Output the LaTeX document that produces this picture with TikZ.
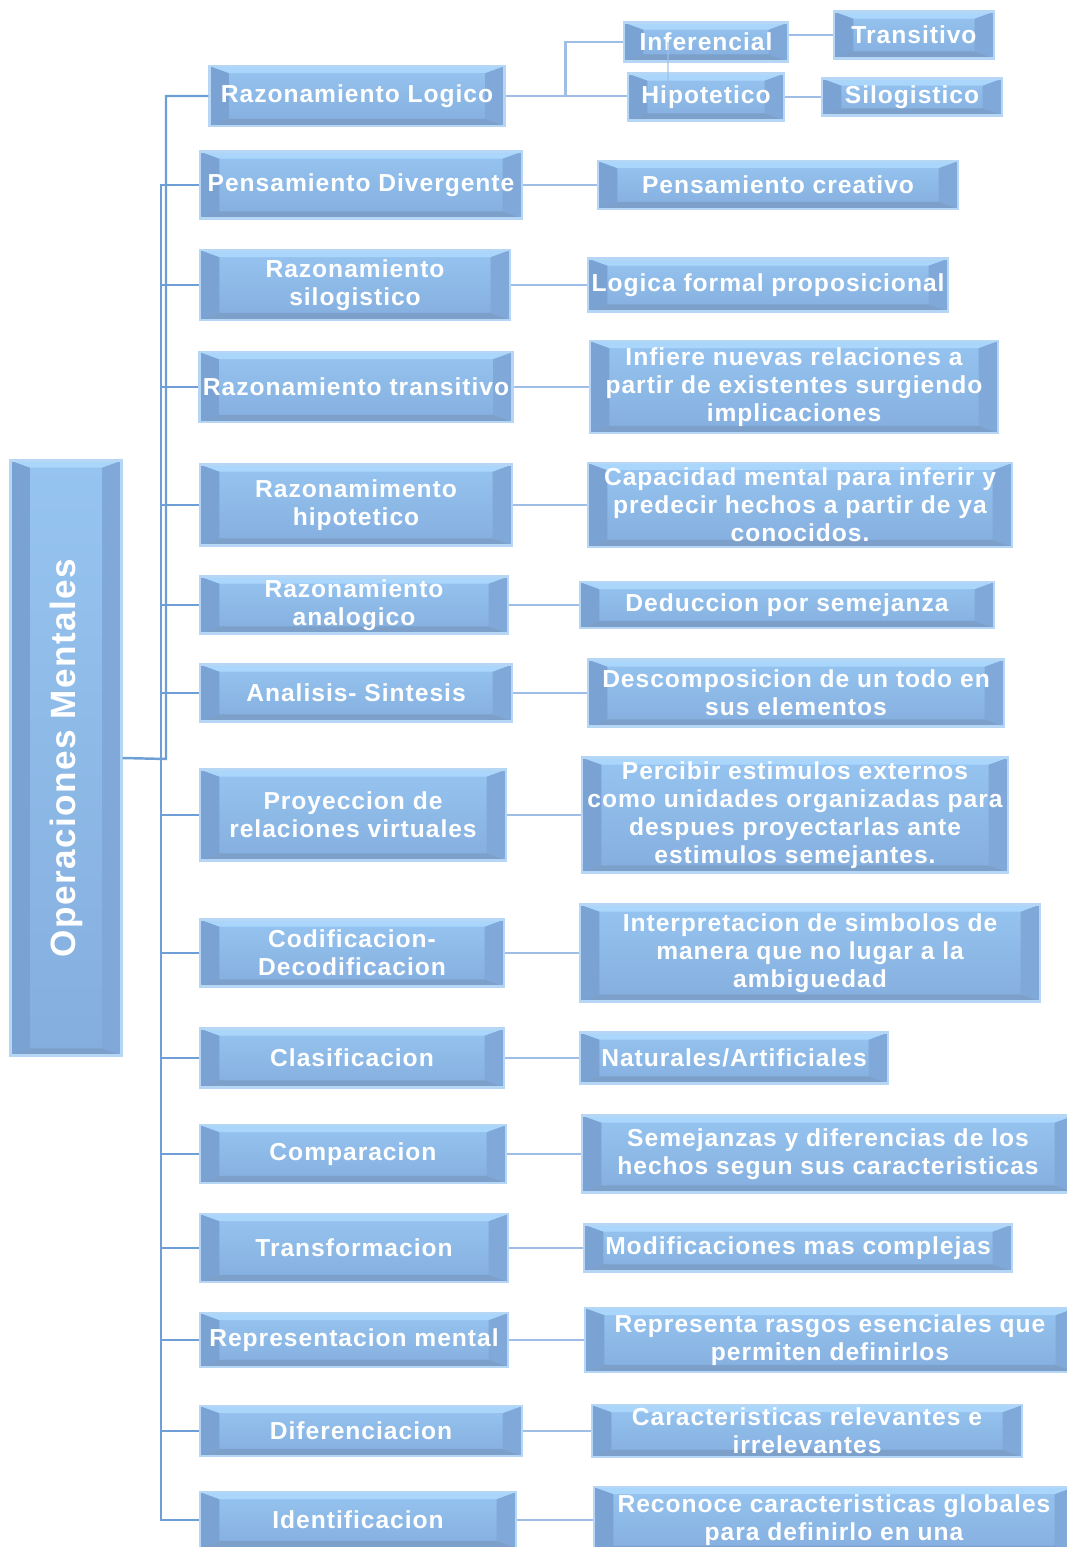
\documentclass[tikz,border=0pt]{standalone}
\usepackage{fontspec}
\setmainfont{Liberation Sans}[LetterSpace=4]
\usepackage{graphicx}
\usetikzlibrary{calc}

\definecolor{boxtop}{RGB}{150,196,240}
\definecolor{boxbot}{RGB}{132,174,222}
\definecolor{bevtop}{RGB}{170,214,252}
\definecolor{bevbot}{RGB}{124,160,202}
\definecolor{bevleft}{RGB}{122,162,210}
\definecolor{bevright}{RGB}{128,168,216}
\definecolor{boxrim}{RGB}{182,214,246}
\definecolor{linkblue}{RGB}{110,158,214}
\definecolor{sublinkblue}{RGB}{158,190,232}

\begin{document}
\begin{tikzpicture}[x=0.02cm, y=-0.02cm,
    % Node styles
    bevel/.style={path picture={
        \fill[bevleft] (path picture bounding box.north west)
            -- ([shift={(11pt,-4pt)}]path picture bounding box.north west)
            -- ([shift={(11pt,4pt)}]path picture bounding box.south west)
            -- (path picture bounding box.south west) -- cycle;
        \fill[bevright] (path picture bounding box.north east)
            -- ([shift={(-11pt,-4pt)}]path picture bounding box.north east)
            -- ([shift={(-11pt,4pt)}]path picture bounding box.south east)
            -- (path picture bounding box.south east) -- cycle;
        \fill[bevtop] (path picture bounding box.north west)
            -- (path picture bounding box.north east)
            -- ([shift={(-11pt,-4pt)}]path picture bounding box.north east)
            -- ([shift={(11pt,-4pt)}]path picture bounding box.north west) -- cycle;
        \fill[bevbot] (path picture bounding box.south west)
            -- (path picture bounding box.south east)
            -- ([shift={(-11pt,4pt)}]path picture bounding box.south east)
            -- ([shift={(11pt,4pt)}]path picture bounding box.south west) -- cycle;
    }},
    box/.style={rectangle, draw=boxrim, line width=1.2pt,
                top color=boxtop, bottom color=boxbot, bevel,
                text=white, align=center, inner sep=1pt,
                font=\fontsize{14}{16}\selectfont\bfseries},
    size/.style 2 args={minimum width=#1*0.02cm, minimum height=#2*0.02cm},
    root/.style={box, font=\fontsize{20}{24}\selectfont\bfseries},
    link/.style={draw=linkblue, line width=1.4pt},
    sublink/.style={draw=sublinkblue, line width=1.4pt}
]
\useasboundingbox (0,0) rectangle (1067,1547);

% 1. Root
\node[root, size={111}{595}] (root) at (66,758) {\rotatebox{90}{Operaciones Mentales}};

% 2. Operations (left column)
\node[box, size={295}{60}] (rlogico) at (357,96) {Razonamiento Logico};
\node[box, size={322}{67}] (pdivergente) at (361,185) {Pensamiento Divergente};
\node[box, size={310}{70}] (rsilogistico) at (355,285) {Razonamiento\\silogistico};
\node[box, size={313}{70}] (rtransitivo) at (356,387) {Razonamiento transitivo};
\node[box, size={312}{81}] (rhipotetico) at (356,505) {Razonamimento\\hipotetico};
\node[box, size={308}{57}] (ranalogico) at (354,605) {Razonamiento\\analogico};
\node[box, size={312}{57}] (analisis) at (356,693) {Analisis- Sintesis};
\node[box, size={306}{91}] (proyeccion) at (353,815) {Proyeccion de\\relaciones virtuales};
\node[box, size={304}{67}] (codificacion) at (352,953) {Codificacion-\\Decodificacion};
\node[box, size={304}{59}] (clasificacion) at (352,1058) {Clasificacion};
\node[box, size={306}{58}] (comparacion) at (353,1154) {Comparacion};
\node[box, size={308}{68}] (transformacion) at (354,1248) {Transformacion};
\node[box, size={308}{54}] (rmental) at (354,1340) {Representacion mental};
\node[box, size={322}{50}] (diferenciacion) at (361,1431) {Diferenciacion};
\node[box, size={316}{56}] (identificacion) at (358,1520) {Identificacion};

% 3. Logico sub-branches
\node[box, size={164}{39}] (inferencial) at (706,42) {Inferencial};
\node[box, size={156}{47}] (hipotetico) at (706,97) {Hipotetico};
\node[box, size={160}{47}] (transitivo) at (914,35) {Transitivo};
\node[box, size={180}{37}] (silogistico) at (912,97) {Silogistico};

% 4. Descriptions (right column)
\node[box, size={360}{48}] (pcreativo) at (778,185) {Pensamiento creativo};
\node[box, size={360}{53}] (lformal) at (768,285) {Logica formal proposicional};
\node[box, size={408}{92}] (infiere) at (794,387) {Infiere nuevas relaciones a\\partir de existentes surgiendo\\implicaciones};
\node[box, size={424}{84}] (capacidad) at (800,505) {Capacidad mental para inferir y\\predecir hechos a partir de ya\\conocidos.};
\node[box, size={414}{46}] (deduccion) at (787,605) {Deduccion por semejanza};
\node[box, size={416}{67}] (descomposicion) at (796,693) {Descomposicion de un todo en\\sus elementos};
\node[box, size={426}{115}] (percibir) at (795,815) {Percibir estimulos externos\\como unidades organizadas para\\despues proyectarlas ante\\estimulos semejantes.};
\node[box, size={460}{97}] (interpretacion) at (810,953) {Interpretacion de simbolos de\\manera que no lugar a la\\ambiguedad};
\node[box, size={308}{51}] (naturales) at (734,1058) {Naturales/Artificiales};
\node[box, size={492}{77}] (semejanzas) at (828,1154) {Semejanzas y diferencias de los\\hechos segun sus caracteristicas};
\node[box, size={428}{47}] (modificaciones) at (798,1248) {Modificaciones mas complejas};
\node[box, size={490}{64}] (representa) at (830,1340) {Representa rasgos esenciales que\\permiten definirlos};
\node[box, size={430}{52}] (caracteristicas) at (807,1431) {Caracteristicas relevantes e\\irrelevantes};
\node[box, size={480}{66}] (reconoce) at (834,1520) {Reconoce caracteristicas globales\\para definirlo en una};

% Bus from the root
\coordinate (busA) at (166,759);
\coordinate (busB) at (161,759);
\draw[link] (root.east) -- (busA) |- (rlogico.west);
\foreach \n in {pdivergente,rsilogistico,rtransitivo,rhipotetico,ranalogico,analisis,
                proyeccion,codificacion,clasificacion,comparacion,transformacion,
                rmental,diferenciacion,identificacion}
    \draw[link] (busB) |- (\n.west);

% Logico branches
\draw[sublink] (rlogico.east) -- ++(60,0) |- (inferencial.west);
\draw[sublink] (rlogico.east) -- (rlogico.east -| hipotetico.west);
\draw[sublink, opacity=0.6] ($(inferencial.center)+(-38,0)$) -- ($(hipotetico.center)+(-38,0)$);
\draw[sublink] (inferencial.east |- transitivo.west) -- (transitivo.west);
\draw[sublink] (hipotetico.east) -- (silogistico.west);

% Operation -> description
\foreach \a/\b in {pdivergente/pcreativo, rsilogistico/lformal, rtransitivo/infiere,
                   rhipotetico/capacidad, ranalogico/deduccion, analisis/descomposicion,
                   proyeccion/percibir, codificacion/interpretacion, clasificacion/naturales,
                   comparacion/semejanzas, transformacion/modificaciones, rmental/representa,
                   diferenciacion/caracteristicas, identificacion/reconoce}
    \draw[sublink] (\a.east) -- (\a.east -| \b.west);

\end{tikzpicture}
\end{document}
